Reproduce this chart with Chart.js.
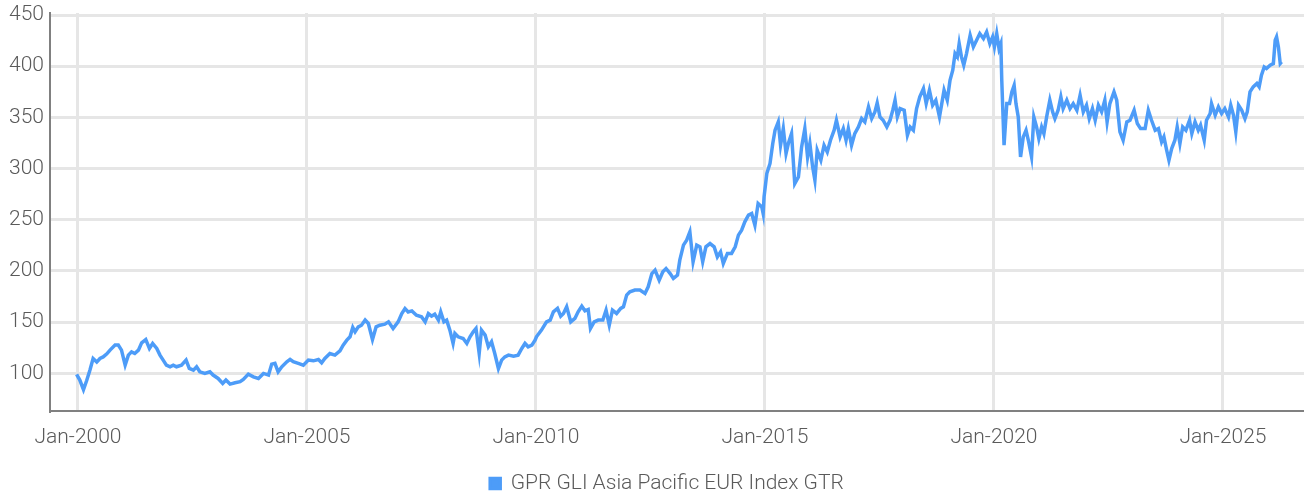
<!DOCTYPE html>
<html lang="en">
<head>
    <meta charset="UTF-8">
    <title>GPR GLI Asia Pacific EUR Index GTR</title>
    <script src="https://cdn.jsdelivr.net/npm/chart.js@4.4.1/dist/chart.umd.min.js"></script>
    <style>
        body { margin: 0; background: #fff; }
    </style>
</head>
<body>
<canvas id="indexChart" width="1304" height="497"></canvas>
<script>

    var seriesName = "GPR GLI Asia Pacific EUR Index GTR";

    // decimal years
    var years = [
        1999.97, 2000.04, 2000.12, 2000.19, 2000.26, 2000.33, 2000.41, 2000.48, 2000.55, 2000.63, 2000.70, 2000.81, 2000.88, 2000.95,
        2001.03, 2001.10, 2001.17, 2001.24, 2001.32, 2001.39, 2001.48, 2001.56, 2001.63, 2001.72, 2001.79, 2001.86, 2001.93,
        2002.01, 2002.08, 2002.15, 2002.26, 2002.36, 2002.43, 2002.52, 2002.59, 2002.66, 2002.77, 2002.88, 2002.95,
        2003.06, 2003.16, 2003.23, 2003.32, 2003.43, 2003.54, 2003.61, 2003.72, 2003.83, 2003.94,
        2004.05, 2004.16, 2004.23, 2004.30, 2004.37, 2004.45, 2004.56, 2004.63, 2004.70, 2004.81, 2004.92,
        2005.03, 2005.14, 2005.25, 2005.32, 2005.39, 2005.50, 2005.61, 2005.72, 2005.79, 2005.87, 2005.94,
        2006.00, 2006.05, 2006.12, 2006.19, 2006.27, 2006.34, 2006.43, 2006.51, 2006.59, 2006.70, 2006.78, 2006.88, 2006.99,
        2007.07, 2007.14, 2007.21, 2007.29, 2007.39, 2007.50, 2007.58, 2007.65, 2007.72, 2007.79, 2007.87, 2007.92, 2007.99,
        2008.05, 2008.12, 2008.19, 2008.23, 2008.30, 2008.41, 2008.49, 2008.56, 2008.63, 2008.69, 2008.76, 2008.81, 2008.89, 2008.96,
        2009.03, 2009.10, 2009.18, 2009.25, 2009.32, 2009.40, 2009.51, 2009.61, 2009.69, 2009.76, 2009.83, 2009.91, 2009.98,
        2010.01, 2010.12, 2010.23, 2010.31, 2010.38, 2010.47, 2010.54, 2010.60, 2010.67, 2010.76, 2010.85, 2010.92,
        2011.00, 2011.07, 2011.14, 2011.19, 2011.27, 2011.36, 2011.46, 2011.53, 2011.60, 2011.67, 2011.76, 2011.85, 2011.91, 2011.98,
        2012.05, 2012.16, 2012.27, 2012.38, 2012.45, 2012.53, 2012.60, 2012.69, 2012.77, 2012.84, 2012.93,
        2013.00, 2013.09, 2013.14, 2013.22, 2013.29, 2013.36, 2013.43, 2013.51, 2013.58, 2013.64, 2013.71, 2013.80, 2013.89, 2013.96,
        2014.03, 2014.09, 2014.18, 2014.27, 2014.35, 2014.42, 2014.49, 2014.56, 2014.64, 2014.71, 2014.78, 2014.85, 2014.93, 2014.96,
        2014.98, 2015.04, 2015.11, 2015.17, 2015.22, 2015.29, 2015.34, 2015.40, 2015.46, 2015.51, 2015.58, 2015.65, 2015.73, 2015.80, 2015.87, 2015.93, 2015.98,
        2016.04, 2016.09, 2016.14, 2016.22, 2016.29, 2016.36, 2016.43, 2016.51, 2016.56, 2016.64, 2016.71, 2016.77, 2016.82, 2016.89, 2016.96,
        2017.04, 2017.11, 2017.18, 2017.26, 2017.33, 2017.40, 2017.45, 2017.51, 2017.58, 2017.66, 2017.73, 2017.79, 2017.84, 2017.89, 2017.95,
        2018.04, 2018.11, 2018.17, 2018.24, 2018.31, 2018.38, 2018.46, 2018.52, 2018.59, 2018.66, 2018.73, 2018.81, 2018.86, 2018.91, 2018.98,
        2019.04, 2019.10, 2019.15, 2019.20, 2019.24, 2019.29, 2019.34, 2019.40, 2019.48, 2019.55, 2019.62, 2019.69, 2019.77, 2019.84, 2019.91, 2019.97,
        2020.01, 2020.06, 2020.11, 2020.15, 2020.17, 2020.22, 2020.28, 2020.34, 2020.39, 2020.44, 2020.48, 2020.53, 2020.58, 2020.64, 2020.70, 2020.75, 2020.82, 2020.87, 2020.93, 2020.98,
        2021.04, 2021.09, 2021.15, 2021.22, 2021.28, 2021.33, 2021.40, 2021.46, 2021.51, 2021.59, 2021.66, 2021.73, 2021.81, 2021.88, 2021.95,
        2022.02, 2022.08, 2022.15, 2022.21, 2022.28, 2022.35, 2022.42, 2022.47, 2022.53, 2022.62, 2022.68, 2022.75, 2022.82, 2022.90, 2022.97,
        2023.06, 2023.13, 2023.20, 2023.30, 2023.37, 2023.44, 2023.52, 2023.59, 2023.66, 2023.71, 2023.77, 2023.82, 2023.88, 2023.95,
        2024.00, 2024.06, 2024.12, 2024.19, 2024.27, 2024.32, 2024.39, 2024.46, 2024.51, 2024.59, 2024.64, 2024.72, 2024.75, 2024.83, 2024.90, 2024.97,
        2025.04, 2025.12, 2025.17, 2025.23, 2025.28, 2025.34, 2025.41, 2025.48, 2025.53, 2025.59, 2025.66, 2025.74, 2025.79, 2025.84, 2025.90, 2025.95,
        2026.03, 2026.10, 2026.14, 2026.17, 2026.21, 2026.25, 2026.28
    ];

    var values = [
        99, 93.4, 84, 93, 103, 114.5, 111, 114.5, 116, 119, 122.7, 127.6, 127.6, 122.7,
        108, 117.8, 121, 119.4, 122.7, 129.8, 133, 124.3, 129.2, 124.3, 117.8, 112.9, 108,
        106.4, 108, 106.4, 108, 112.9, 104.8, 103.1, 106.4, 101.5, 99.9, 101.5, 98.3,
        95, 90.1, 93.4, 89.5, 90.8, 91.8, 94, 99.2, 96.6, 95,
        99.9, 98.3, 109, 109.7, 101.5, 106.4, 111.3, 113.6, 111.3, 109.7, 108,
        112.9, 112.2, 113.5, 110.3, 114.5, 119.4, 117.8, 122, 127.5, 132.4, 135.7,
        144.8, 140.6, 145.4, 147, 152, 148.7, 133, 145.4, 147, 148, 150.3, 143.8, 150.3,
        158.4, 163.3, 160, 161, 156.8, 155.2, 150.3, 158.4, 155.8, 157.8, 152, 160, 150.3,
        152, 142.2, 129.2, 138.9, 135.7, 134, 129.2, 135.7, 140.6, 143.8, 119.4, 142.2, 137.3, 125.9,
        130.8, 119.4, 104.7, 112.9, 116.1, 117.8, 116.8, 117.8, 124.3, 129.2, 125.9, 127.5, 132.4,
        135.7, 142.2, 150.3, 152, 160.1, 163.4, 155.9, 158.5, 165, 150.3, 153.6, 160.1,
        165.6, 161.1, 162.4, 143.8, 150.3, 152, 152, 161.7, 147.1, 161.7, 158.5, 163.4, 165, 176.4,
        179.6, 181.3, 181.3, 178, 184.5, 197.5, 200.8, 191, 199.2, 202.4, 197.5,
        192.7, 195.9, 210.6, 225.2, 230.1, 238.2, 208.9, 225.2, 223.6, 208.9, 223.6, 226.8, 223.6, 213.8,
        218.7, 207.3, 217.1, 217.1, 223.6, 235, 239.9, 248, 254.5, 256.1, 244.7, 265.9, 262.6, 256.1,
        272.4, 295.2, 305, 324.5, 337.5, 345.6, 322.8, 339.1, 314.7, 324.5, 334.2, 285.4, 291.9, 321.2, 339.1, 311.4, 324.5,
        301.7, 288.7, 318, 308.2, 322.8, 316.3, 327.7, 337.5, 347.2, 331, 339.1, 327.7, 339.1, 322.8, 334.2,
        340.7, 348.9, 345.6, 360.3, 348.9, 355.4, 364.2, 350.5, 347.2, 340.7, 347.2, 357, 366.8, 350.5, 358.6,
        357, 332.6, 340.7, 337.5, 358.6, 370.1, 378.2, 363.5, 376.6, 361.9, 366.8, 350.5, 363.5, 376.6, 366.8,
        386.3, 396.1, 412.4, 409.1, 422.1, 409.1, 401, 412.4, 430.3, 418.9, 425.4, 431.9, 427, 433.5, 422.1, 428.6,
        418.9, 431.9, 417.2, 422.1, 386.3, 322.8, 363.5, 363.5, 374.9, 381.4, 363.5, 350.5, 311.4, 331, 337.5, 327.7, 311.4, 350.5, 340.7, 329.3,
        340.7, 334.2, 350.5, 366.8, 355.4, 348.9, 357, 370.1, 358.6, 366.8, 358.6, 363.5, 357, 371.7, 355.4,
        361.9, 348.9, 358.6, 347.2, 361.9, 355.4, 366.8, 345.6, 363.5, 374.9, 366.8, 335.9, 327.7, 345.6, 347.2,
        357, 344, 339.1, 339.1, 357, 347.2, 337.5, 339.1, 326.1, 331, 318, 308.2, 319.6, 327.7,
        340.7, 324.5, 340.7, 337.5, 347.2, 334.2, 345.6, 337.5, 342.4, 327.7, 347.2, 353.8, 363.5, 352.1, 360.3, 353.8,
        358.6, 350.5, 361.9, 352.1, 335.9, 361.9, 357, 348.9, 355.4, 374.9, 379.8, 383.1, 379.8, 391.2, 399.3, 397.7,
        401, 402.6, 425.4, 428.6, 418.9, 402.6, 404.2
    ];

    var xTickYears = [2000, 2005, 2010, 2015, 2020, 2025];
    var yTickValues = [100, 150, 200, 250, 300, 350, 400, 450];

    var points = years.map(function (y, i) {
        return {x: y, y: values[i]};
    });

    var labelFont = {family: 'Roboto', size: 21, weight: '300'};
    var labelColor = '#5a5a5a';

    // nudge the legend a little right, like the original
    var legendShift = {
        id: 'legendShift',
        afterLayout: function (chart) {
            chart.legend.left += 15;
            chart.legend.right += 15;
        }
    };

    var config = {
        type: 'line',
        data: {
            datasets: [{
                label: seriesName,
                data: points,
                borderColor: '#4d9cf8',
                backgroundColor: '#4d9cf8',
                borderWidth: 3.5,
                pointRadius: 0,
                tension: 0,
                fill: false
            }]
        },
        options: {
            responsive: false,
            animation: false,
            layout: {
                padding: {top: 13, right: 0, bottom: -7, left: 0}
            },
            plugins: {
                legend: {
                    position: 'bottom',
                    labels: {
                        boxWidth: 10,
                        boxHeight: 10,
                        padding: 6,
                        color: labelColor,
                        font: labelFont
                    }
                },
                tooltip: {enabled: false}
            },
            scales: {
                x: {
                    type: 'linear',
                    min: 1999.389,
                    max: 2026.769,
                    afterBuildTicks: function (scale) {
                        scale.ticks = xTickYears.map(function (v) { return {value: v}; });
                    },
                    afterFit: function (scale) {
                        scale.height = 56;
                    },
                    ticks: {
                        autoSkip: false,
                        maxRotation: 0,
                        padding: 14,
                        color: labelColor,
                        font: labelFont,
                        callback: function (v) { return 'Jan-' + v; }
                    },
                    grid: {color: '#e6e6e6', lineWidth: 3, drawTicks: false},
                    border: {color: '#808080', width: 2}
                },
                y: {
                    min: 63.2,
                    max: 452,
                    afterBuildTicks: function (scale) {
                        scale.ticks = yTickValues.map(function (v) { return {value: v}; });
                    },
                    afterFit: function (scale) {
                        scale.width = 50;
                        scale.paddingTop = 0;
                        scale.paddingBottom = 0;
                    },
                    ticks: {
                        padding: 6,
                        color: labelColor,
                        font: labelFont
                    },
                    grid: {color: '#e6e6e6', lineWidth: 3, drawTicks: false},
                    border: {color: '#808080', width: 2}
                }
            }
        },
        plugins: [legendShift]
    };

    window.onload = function () {
        var ctx = document.getElementById("indexChart").getContext("2d");
        window.myLine = new Chart(ctx, config);
    };

</script>
</body>
</html>
